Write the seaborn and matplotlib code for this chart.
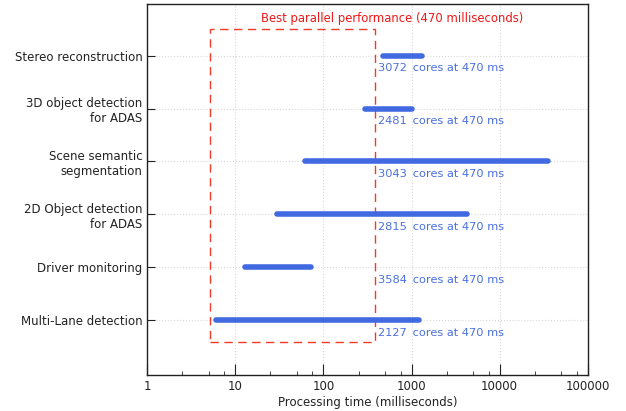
import numpy as np
import pandas as pd
import matplotlib
matplotlib.use("Agg")
import matplotlib.pyplot as plt
import matplotlib.ticker as mticker
from matplotlib.patches import Rectangle
import seaborn as sns

tasks = ["Multi-Lane detection", "Driver monitoring", "2D Object detection\nfor ADAS",
         "Scene semantic\nsegmentation", "3D object detection\nfor ADAS", "Stereo reconstruction"]
t_min = [6.0, 12.7, 29.5, 61, 300, 470]
t_max = [1200, 72, 4250, 35500, 1010, 1310]
cores = [2127, 3584, 2815, 3043, 2481, 3072]
best_ms = 470
box_x = [5.2, 385]
box_y = [-0.42, 5.5]
x_ticks = [1, 10, 100, 1000, 10000, 100000]

sns.set_style("ticks")
plt.rcParams['font.family'] = ['DejaVu Sans']

rows = []
for i, (a, b) in enumerate(zip(t_min, t_max)):
    rows.append({"task": tasks[i], "pos": i, "time": a})
    rows.append({"task": tasks[i], "pos": i, "time": b})
df = pd.DataFrame(rows)

fig = plt.figure(figsize=(6.26, 4.11), dpi=100)
ax = fig.add_axes([0.2353, 0.0876, 0.7035, 0.9027])

sns.lineplot(data=df, x="time", y="pos", units="task", estimator=None, sort=False,
             color="#4169E1", linewidth=4, solid_capstyle="round", ax=ax, legend=False)

ax.set_xscale("log")
ax.set_xlim(1, 100000)
ax.set_ylim(-1.04, 5.98)

ax.add_patch(Rectangle((box_x[0], box_y[0]), box_x[1] - box_x[0], box_y[1] - box_y[0],
                       fill=False, edgecolor="#f03a2a", linestyle=(0, (6, 4)), linewidth=1.0, zorder=1))

for i, c in enumerate(cores):
    ax.text(413, i - 0.24, f"{c}\u2009 cores at {best_ms} ms", color="#4a6fe3", fontsize=8.2,
            ha="left", va="center")

ax.text(0.555, 0.96, f"Best parallel performance ({best_ms} milliseconds)", transform=ax.transAxes,
        color="#f01818", fontsize=8.4, ha="center", va="center")

ax.set_yticks(range(len(tasks)))
ax.set_yticklabels(tasks, fontsize=8.5)
ax.set_xticks(x_ticks)
ax.xaxis.set_major_formatter(mticker.FuncFormatter(lambda v, p: f"{int(round(v))}"))
ax.xaxis.set_minor_locator(mticker.LogLocator(base=10, subs=(2.5, 5.0, 7.5)))
ax.xaxis.set_minor_formatter(mticker.NullFormatter())
ax.tick_params(axis="x", which="major", direction="in", length=8, labelsize=8.5, pad=3.5)
ax.tick_params(axis="x", which="minor", direction="in", length=3)
ax.tick_params(axis="y", which="major", direction="in", length=6, labelsize=8.5)
ax.tick_params(top=False, right=False, colors="#222222")

ax.grid(True, which="major", axis="both", color="#d8d8d8", linestyle=":", linewidth=0.8)
ax.set_axisbelow(True)
for s in ax.spines.values():
    s.set_visible(True)
    s.set_color("#222222")
    s.set_linewidth(1.0)

ax.set_xlabel("Processing time (milliseconds)", fontsize=8.5, labelpad=2, color="#222222")
ax.set_ylabel("")

fig.savefig("out.png", dpi=100)
